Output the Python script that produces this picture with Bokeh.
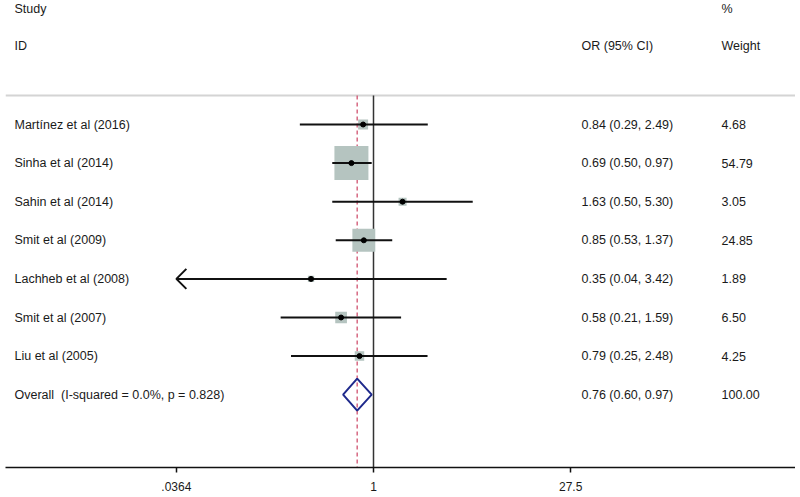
import math
from bokeh.plotting import figure
from bokeh.models import Range1d, LinearScale, FixedTicker, ColumnDataSource
from bokeh.core.properties import value
from bokeh.embed import file_html
from bokeh.resources import INLINE

# ---------------- data ----------------
studies = ["Martínez et al (2016)", "Sinha et al (2014)", "Sahin et al (2014)",
           "Smit et al (2009)", "Lachheb et al (2008)", "Smit et al (2007)",
           "Liu et al (2005)"]
odds = [0.84, 0.69, 1.63, 0.85, 0.35, 0.58, 0.79]
lower = [0.29, 0.50, 0.50, 0.53, 0.036, 0.21, 0.25]
upper = [2.49, 0.97, 5.30, 1.37, 3.42, 1.59, 2.48]
weights = [4.68, 54.79, 3.05, 24.85, 1.89, 6.50, 4.25]

overall_label = "Overall\u00a0\u00a0(I-squared = 0.0%, p = 0.828)"
overall_or = 0.76
overall_lo = 0.60
overall_hi = 0.97
overall_wt = 100.00

tick_values = [0.0364, 1, 27.5]
tick_labels = [".0364", "1", "27.5"]

# ---------------- layout constants (page pixels) ----------------
FONT = "Liberation Sans"
TXT = "#1a1a1a"
PX_PER_LN = 59.5      # horizontal pixels per unit of ln(OR)
PX_PER_ROW = 38.6     # vertical pixels per row
X_ONE = 373           # page x of OR = 1
LEFT, RIGHT = 5, 795  # frame horizontal extent
TOP, BOTTOM = 0, 467  # frame vertical extent (axis line at bottom)
ROW1_Y = 124
COL_LABEL, COL_OR, COL_WT = 14, 581, 721

def row_at(y):
    return 1 + (y - ROW1_Y) / PX_PER_ROW

x_start = math.exp((LEFT - X_ONE) / PX_PER_LN)
x_end = math.exp((RIGHT - X_ONE) / PX_PER_LN)
row_top, row_bottom = row_at(TOP), row_at(BOTTOM)
sep_row = row_at(95)
hdr1_row = row_at(8)
hdr2_row = row_at(45)

p = figure(frame_width=RIGHT - LEFT, frame_height=BOTTOM - TOP, x_axis_type="log",
           x_range=Range1d(x_start, x_end), y_range=Range1d(row_bottom, row_top),
           output_backend="svg", toolbar_location=None, min_border=0,
           background_fill_color="white", border_fill_color="white")
p.min_border_left = LEFT
p.outline_line_color = None
p.grid.visible = False
p.yaxis.visible = False
p.extra_x_ranges = {"px": Range1d(LEFT, RIGHT)}
p.extra_x_scales = {"px": LinearScale()}

ax = p.xaxis[0]
ax.ticker = FixedTicker(ticks=tick_values, minor_ticks=[])
ax.major_label_overrides = {v: l for v, l in zip(tick_values, tick_labels)}
ax.axis_line_color = "#111111"
ax.axis_line_width = 1.5
ax.major_tick_line_color = "#111111"
ax.major_tick_line_width = 1.5
ax.major_tick_out = 5
ax.major_tick_in = 0
ax.minor_tick_out = 0
ax.minor_tick_in = 0
ax.major_label_standoff = 9
ax.major_label_text_font = FONT
ax.major_label_text_font_size = "12px"
ax.major_label_text_color = TXT

rows = list(range(1, len(studies) + 1))
overall_row = len(studies) + 1

# separator line
p.segment(x0=[LEFT], y0=[sep_row], x1=[RIGHT], y1=[sep_row], x_range_name="px",
          line_color="#d4d4d4", line_width=2)

# null line and overall line
p.segment(x0=[1], y0=[sep_row], x1=[1], y1=[row_bottom], line_color="#333333",
          line_width=1.5)
p.segment(x0=[overall_or], y0=[sep_row], x1=[overall_or], y1=[row_bottom],
          line_color="#d0506e", line_width=1.3, line_dash="4 3")

# weight boxes
box_k = 34 / math.sqrt(max(weights))
sizes = [box_k * math.sqrt(w) for w in weights]
src = ColumnDataSource(dict(x=odds, y=rows, s=sizes))
p.rect(x="x", y="y", width="s", height="s", width_units="screen",
       height_units="screen", source=src, fill_color="#b5c4c0",
       line_color=None)

# confidence intervals (clipped at axis minimum, with arrow)
xmin = tick_values[0]
lo_c = [max(l, xmin) for l in lower]
p.segment(x0=lo_c, y0=rows, x1=upper, y1=rows, line_color="#111111",
          line_width=2)
for l, r in zip(lower, rows):
    if l < xmin:
        back = xmin * math.exp(10 / PX_PER_LN)
        dy = 10 / PX_PER_ROW
        p.line(x=[back, xmin, back], y=[r - dy, r, r + dy],
               line_color="#111111", line_width=2)

# point estimates
p.scatter(x=odds, y=rows, size=5, color="#000000")

# overall diamond
h = 16 / PX_PER_ROW
p.patch(x=[overall_lo, overall_or, overall_hi, overall_or],
        y=[overall_row, overall_row - h, overall_row, overall_row + h],
        fill_alpha=0, line_color="#1f2a8c", line_width=2)

# texts
def put(xs, ys, texts):
    p.text(x=xs, y=ys, text=texts, x_range_name="px",
           text_font=value(FONT), text_font_size="12.5px", text_color=TXT,
           text_baseline="middle", text_align="left")

put([COL_LABEL, COL_LABEL, COL_OR, COL_WT, COL_WT],
    [hdr1_row, hdr2_row, hdr2_row, hdr1_row, hdr2_row],
    ["Study", "ID", "OR (95% CI)", "%", "Weight"])
put([COL_LABEL] * (len(studies) + 1), rows + [overall_row],
    studies + [overall_label])
or_txt = ["%.2f (%.2f, %.2f)" % (o, l, u) for o, l, u in zip(odds, lower, upper)]
or_txt.append("%.2f (%.2f, %.2f)" % (overall_or, overall_lo, overall_hi))
put([COL_OR] * (len(studies) + 1), rows + [overall_row], or_txt)
wt_txt = ["%.2f" % w for w in weights] + ["%.2f" % overall_wt]
put([COL_WT] * (len(studies) + 1), rows + [overall_row], wt_txt)

open("out.html", "w").write(file_html(p, INLINE))
